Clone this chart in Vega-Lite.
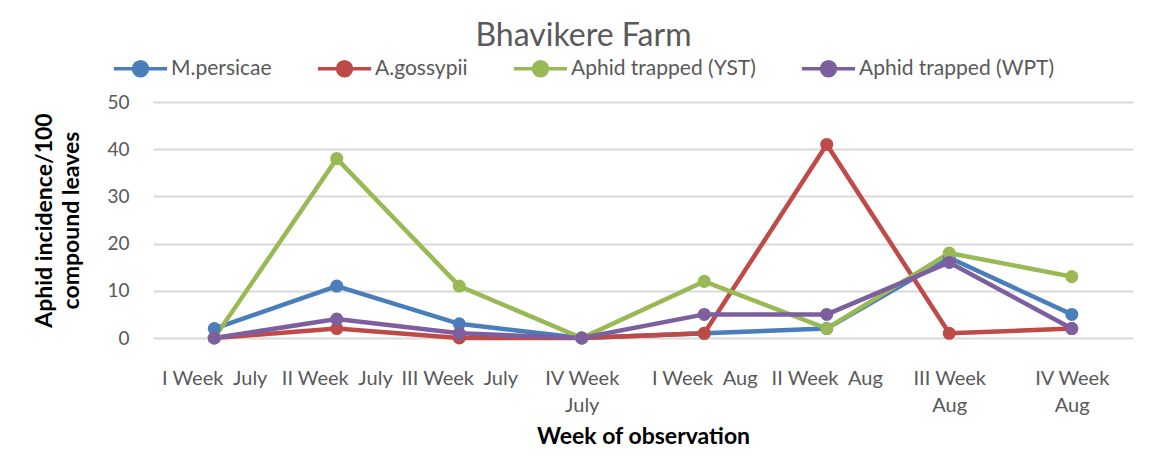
{
  "$schema": "https://vega.github.io/schema/vega-lite/v6.json",
  "autosize": "none",
  "width": 980,
  "height": 236,
  "padding": {"left": 153, "top": 102, "right": 22, "bottom": 119},
  "background": "white",
  "title": {
    "text": "Bhavikere Farm",
    "font": "Lato",
    "fontSize": 32,
    "fontWeight": "normal",
    "color": "#595959",
    "anchor": "middle",
    "frame": "bounds",
    "offset": 5
  },
  "config": {
    "view": {"stroke": null},
    "font": "Lato"
  },
  "data": {
    "values": [
      {"week": "I Week\u00a0\u00a0July", "series": "M.persicae", "value": 2},
      {"week": "II Week\u00a0\u00a0July", "series": "M.persicae", "value": 11},
      {"week": "III Week\u00a0\u00a0July", "series": "M.persicae", "value": 3},
      {"week": "IV Week|July", "series": "M.persicae", "value": 0},
      {"week": "I Week\u00a0\u00a0Aug", "series": "M.persicae", "value": 1},
      {"week": "II Week\u00a0\u00a0Aug", "series": "M.persicae", "value": 2},
      {"week": "III Week|Aug", "series": "M.persicae", "value": 17},
      {"week": "IV Week|Aug", "series": "M.persicae", "value": 5},
      {"week": "I Week\u00a0\u00a0July", "series": "A.gossypii", "value": 0},
      {"week": "II Week\u00a0\u00a0July", "series": "A.gossypii", "value": 2},
      {"week": "III Week\u00a0\u00a0July", "series": "A.gossypii", "value": 0},
      {"week": "IV Week|July", "series": "A.gossypii", "value": 0},
      {"week": "I Week\u00a0\u00a0Aug", "series": "A.gossypii", "value": 1},
      {"week": "II Week\u00a0\u00a0Aug", "series": "A.gossypii", "value": 41},
      {"week": "III Week|Aug", "series": "A.gossypii", "value": 1},
      {"week": "IV Week|Aug", "series": "A.gossypii", "value": 2},
      {"week": "I Week\u00a0\u00a0July", "series": "Aphid trapped (YST)", "value": 0},
      {"week": "II Week\u00a0\u00a0July", "series": "Aphid trapped (YST)", "value": 38},
      {"week": "III Week\u00a0\u00a0July", "series": "Aphid trapped (YST)", "value": 11},
      {"week": "IV Week|July", "series": "Aphid trapped (YST)", "value": 0},
      {"week": "I Week\u00a0\u00a0Aug", "series": "Aphid trapped (YST)", "value": 12},
      {"week": "II Week\u00a0\u00a0Aug", "series": "Aphid trapped (YST)", "value": 2},
      {"week": "III Week|Aug", "series": "Aphid trapped (YST)", "value": 18},
      {"week": "IV Week|Aug", "series": "Aphid trapped (YST)", "value": 13},
      {"week": "I Week\u00a0\u00a0July", "series": "Aphid trapped (WPT)", "value": 0},
      {"week": "II Week\u00a0\u00a0July", "series": "Aphid trapped (WPT)", "value": 4},
      {"week": "III Week\u00a0\u00a0July", "series": "Aphid trapped (WPT)", "value": 1},
      {"week": "IV Week|July", "series": "Aphid trapped (WPT)", "value": 0},
      {"week": "I Week\u00a0\u00a0Aug", "series": "Aphid trapped (WPT)", "value": 5},
      {"week": "II Week\u00a0\u00a0Aug", "series": "Aphid trapped (WPT)", "value": 5},
      {"week": "III Week|Aug", "series": "Aphid trapped (WPT)", "value": 16},
      {"week": "IV Week|Aug", "series": "Aphid trapped (WPT)", "value": 2}
    ]
  },
  "encoding": {
    "x": {
      "field": "week",
      "type": "nominal",
      "sort": null,
      "scale": {"type": "point", "padding": 0.5},
      "axis": {
        "title": "Week of observation",
        "titleFont": "Lato",
        "titleFontSize": 23,
        "titleFontWeight": "bold",
        "titleColor": "#000000",
        "titlePadding": 10,
        "labelExpr": "split(datum.label, '|')",
        "labelAngle": 0,
        "labelFont": "Lato",
        "labelFontSize": 20,
        "labelColor": "#595959",
        "labelLineHeight": 27,
        "labelPadding": 30,
        "labelBaseline": "top",
        "ticks": false,
        "domain": false,
        "grid": false
      }
    },
    "y": {
      "field": "value",
      "type": "quantitative",
      "scale": {"domain": [0, 50], "nice": false},
      "axis": {
        "values": [0, 10, 20, 30, 40, 50],
        "title": ["Aphid incidence/100", "compound leaves"],
        "titleFont": "Lato",
        "titleFontSize": 23,
        "titleFontWeight": "bold",
        "titleColor": "#000000",
        "titleLineHeight": 27,
        "titlePadding": 23,
        "labelFont": "Lato",
        "labelFontSize": 19,
        "labelColor": "#595959",
        "labelPadding": 24,
        "ticks": false,
        "domain": false,
        "grid": true,
        "gridColor": "#d9d9d9",
        "gridWidth": 2
      }
    },
    "color": {
      "field": "series",
      "type": "nominal",
      "sort": null,
      "scale": {
        "domain": ["M.persicae", "A.gossypii", "Aphid trapped (YST)", "Aphid trapped (WPT)"],
        "range": ["#4a7ebb", "#be4b48", "#98b954", "#7d5fa0"]
      },
      "legend": {
        "title": null,
        "orient": "none",
        "direction": "horizontal",
        "legendX": -23,
        "legendY": -44,
        "labelFont": "Lato",
        "labelFontSize": 21,
        "labelColor": "#595959",
        "labelLimit": 400,
        "symbolType": "M-3.8,0H3.8M-1,0A1,1 0 1,0 1,0A1,1 0 1,0 -1,0Z",
        "symbolSize": 196,
        "symbolStrokeWidth": 3.5,
        "labelOffset": 20,
        "columnPadding": 38
      }
    }
  },
  "layer": [
    {
      "mark": {"type": "line", "strokeWidth": 4.5},
      "encoding": {}
    },
    {
      "mark": {"type": "circle", "size": 170, "opacity": 1},
      "encoding": {}
    }
  ]
}
